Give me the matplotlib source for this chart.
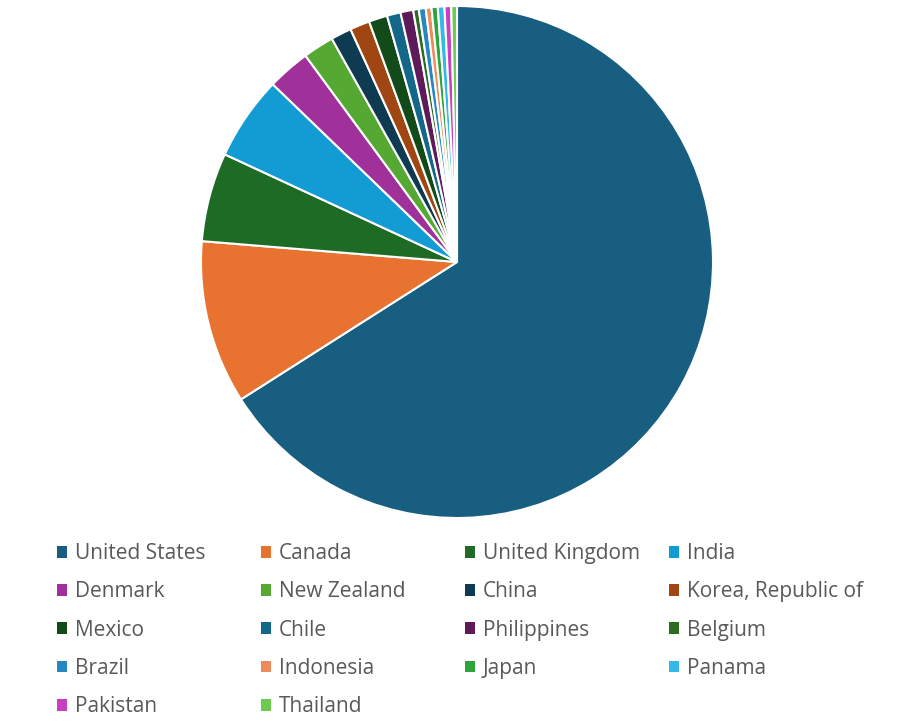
import matplotlib.pyplot as plt
from matplotlib.patches import Patch

countries = ['United States', 'Canada', 'United Kingdom', 'India', 'Denmark',
             'New Zealand', 'China', 'Korea, Republic of', 'Mexico', 'Chile',
             'Philippines', 'Belgium', 'Brazil', 'Indonesia', 'Japan',
             'Panama', 'Pakistan', 'Thailand']
shares = [65.9, 10.3, 5.6, 5.3, 2.7, 1.95, 1.3, 1.25, 1.17, 0.86,
          0.8, 0.35, 0.44, 0.36, 0.39, 0.42, 0.42, 0.36]
colors = ['#175E80', '#E8722F', '#1E6B26', '#139BD4', '#A0309A', '#55A832',
          '#0E3A52', '#A04612', '#124A1A', '#136788', '#5E1B5A', '#2E6B22',
          '#2688C0', '#EE8A5C', '#2EA53A', '#35B8E8', '#C840C0', '#6CCB4E']

W, H = 922, 727
fig = plt.figure(figsize=(W / 100, H / 100), dpi=100)

cx, cy, r = 457, 262, 256
ax = fig.add_axes([(cx - r) / W, (H - cy - r) / H, 2 * r / W, 2 * r / H])
ax.pie(shares, colors=colors, startangle=90, counterclock=False, radius=1,
       wedgeprops=dict(edgecolor='white', linewidth=1.5))
ax.set_xlim(-1, 1)
ax.set_ylim(-1, 1)
ax.set_aspect('equal')
ax.axis('off')

# legend: 4 evenly spaced columns, row-major order
col_x = [57, 261, 465, 669]
top_y = 543
for j in range(4):
    idx = list(range(j, len(countries), 4))
    handles = [Patch(facecolor=colors[i], edgecolor='none') for i in idx]
    labels = [countries[i] for i in idx]
    leg = fig.legend(handles, labels, loc='upper left',
                     bbox_to_anchor=(col_x[j] / W, 1 - top_y / H),
                     frameon=False, borderpad=0, borderaxespad=0,
                     handlelength=0.5, handleheight=0.5, handletextpad=0.35,
                     labelspacing=0.83,
                     prop=dict(family='Open Sans', size=15))
    for t in leg.get_texts():
        t.set_color('#595959')

fig.savefig('out.png', dpi=100)
